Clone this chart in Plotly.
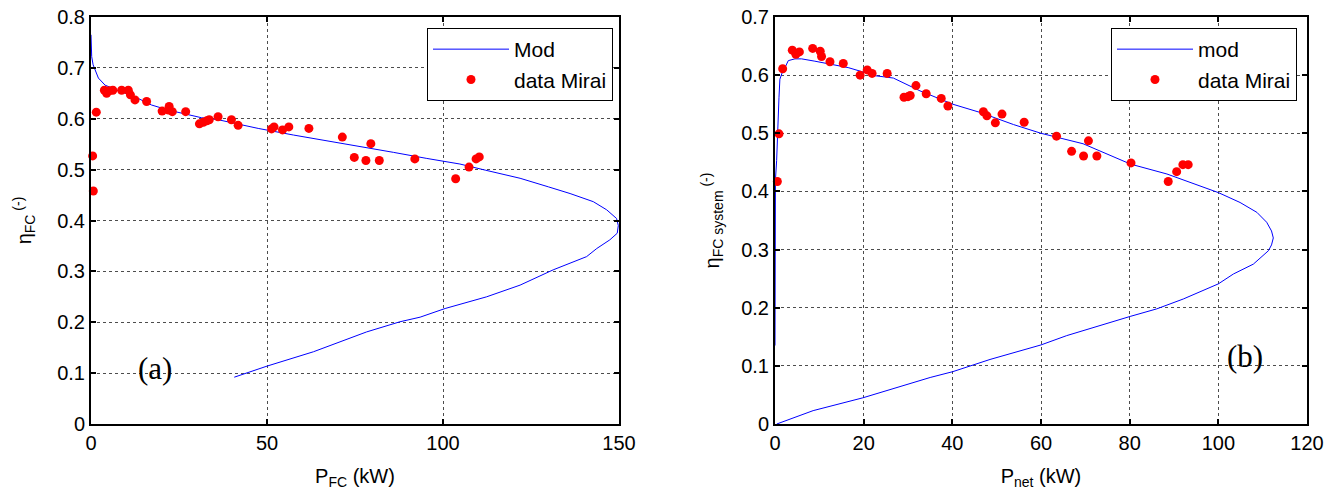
import plotly.graph_objects as go

# ---- Panel (a): stack efficiency vs stack power ----
mod_a_p = [0, 0.2, 0.6, 2.1, 4.0, 7.8, 12.5, 17.2, 22.0, 26.7, 31.4, 36.2, 40.9, 47.5,
           57.5, 67.0, 76.4, 85.9, 95.4, 104.8, 112.0, 121.9, 130.0, 136.1, 142.7, 146.5,
           149.3, 149.8, 149.5, 147.4, 143.7, 140.8, 131.3, 121.9, 112.4, 100.6, 93.5,
           87.8, 78.3, 63.2, 50.1, 40.7]
mod_a_eta = [0.765, 0.722, 0.706, 0.680, 0.666, 0.655, 0.643, 0.627, 0.617, 0.609, 0.602,
             0.598, 0.591, 0.581, 0.568, 0.557, 0.545, 0.534, 0.522, 0.511, 0.499, 0.483,
             0.466, 0.453, 0.437, 0.421, 0.404, 0.390, 0.375, 0.362, 0.345, 0.329, 0.303,
             0.273, 0.250, 0.227, 0.210, 0.201, 0.181, 0.142, 0.114, 0.092]

mirai_a_p = [0.47, 0.66, 1.5, 3.8, 4.45, 5.2, 6.2, 8.7, 10.6, 11.2, 12.5, 15.8, 20.2, 22.2,
             22.0, 23.1, 26.9, 30.8, 31.9, 32.9, 33.6, 36.1, 39.9, 41.8, 51.3, 52.0, 54.4,
             56.2, 61.9, 71.4, 74.8, 79.5, 78.1, 81.9, 92.0, 103.6, 107.4, 109.4, 110.3]
mirai_a_eta = [0.527, 0.458, 0.613, 0.656, 0.650, 0.655, 0.656, 0.656, 0.656, 0.647, 0.637,
               0.634, 0.615, 0.624, 0.617, 0.614, 0.614, 0.590, 0.593, 0.596, 0.598, 0.604,
               0.598, 0.587, 0.580, 0.584, 0.578, 0.584, 0.581, 0.564, 0.524, 0.551, 0.518,
               0.518, 0.521, 0.482, 0.505, 0.521, 0.525]

# ---- Panel (b): system efficiency vs net power ----
mod_b_p = [0.0, 0.05, 0.1, 0.37, 0.6, 0.9, 1.1, 1.65, 2.25, 3.0, 4.5, 6.0, 9.0, 12.8, 16.5,
           19.6, 22.6, 26.7, 32.7, 40.1, 46.2, 53.8, 60.0, 69.5, 80.2, 88.4, 100.0, 104.9,
           108.7, 110.9, 112.0, 112.4, 112.0, 111.3, 107.9, 103.4, 100.0, 92.1, 86.1, 80.1,
           73.3, 65.8, 60.0, 53.8, 48.5, 40.1, 35.0, 19.8, 8.6, 0.4]
mod_b_eta = [0.135, 0.300, 0.420, 0.453, 0.522, 0.562, 0.593, 0.605, 0.613, 0.625, 0.628,
             0.628, 0.624, 0.619, 0.613, 0.606, 0.599, 0.595, 0.573, 0.550, 0.536, 0.515,
             0.500, 0.482, 0.447, 0.430, 0.398, 0.381, 0.364, 0.347, 0.332, 0.320, 0.308,
             0.298, 0.275, 0.258, 0.241, 0.215, 0.198, 0.185, 0.169, 0.152, 0.136, 0.123,
             0.111, 0.090, 0.080, 0.045, 0.023, 0.000]

mirai_b_p = [0.53, 0.90, 1.73, 3.9, 4.7, 5.5, 8.5, 10.2, 10.5, 12.4, 15.4, 19.2, 20.8, 21.9,
             25.3, 29.1, 30.0, 30.5, 31.8, 34.1, 37.5, 39.0, 47.0, 47.8, 49.7, 51.2, 56.2,
             63.5, 66.9, 70.7, 69.6, 72.6, 80.3, 88.7, 90.6, 92.0, 93.2]
mirai_b_eta = [0.417, 0.499, 0.611, 0.643, 0.636, 0.640, 0.646, 0.641, 0.632, 0.623, 0.620,
               0.600, 0.609, 0.603, 0.603, 0.562, 0.563, 0.565, 0.582, 0.568, 0.560, 0.547,
               0.537, 0.530, 0.518, 0.533, 0.519, 0.495, 0.469, 0.487, 0.461, 0.461, 0.449,
               0.417, 0.434, 0.446, 0.446]

x_ticks_a = [0, 50, 100, 150]
y_ticks_a = [0, 0.1, 0.2, 0.3, 0.4, 0.5, 0.6, 0.7, 0.8]
x_ticks_b = [0, 20, 40, 60, 80, 100, 120]
y_ticks_b = [0, 0.1, 0.2, 0.3, 0.4, 0.5, 0.6, 0.7]

FONT = "Liberation Sans, Arial, sans-serif"
SERIF = "Liberation Serif, Times New Roman, serif"
BLUE = "#0000FF"
RED = "#FF0000"

fig = go.Figure()

fig.add_trace(go.Scatter(x=mod_a_p, y=mod_a_eta, mode="lines", name="Mod",
                         line=dict(color=BLUE, width=1), xaxis="x", yaxis="y",
                         legend="legend"))
fig.add_trace(go.Scatter(x=mirai_a_p, y=mirai_a_eta, mode="markers", name="data Mirai",
                         marker=dict(color=RED, size=9), xaxis="x", yaxis="y",
                         legend="legend", cliponaxis=False))
fig.add_trace(go.Scatter(x=mod_b_p, y=mod_b_eta, mode="lines", name="mod",
                         line=dict(color=BLUE, width=1), xaxis="x2", yaxis="y2",
                         legend="legend2", cliponaxis=False))
fig.add_trace(go.Scatter(x=mirai_b_p, y=mirai_b_eta, mode="markers", name="data Mirai",
                         marker=dict(color=RED, size=9), xaxis="x2", yaxis="y2",
                         legend="legend2", cliponaxis=False))

W, H = 1336, 492
y_dom = [68 / H, 475 / H]

axis_common = dict(
    showline=True, linecolor="black", linewidth=2, mirror="ticks",
    ticks="inside", ticklen=5, tickcolor="black", tickwidth=1.5,
    showgrid=True, gridcolor="#4d4d4d", griddash="dot", gridwidth=1,
    zeroline=False, automargin=False,
    tickfont=dict(family=FONT, size=20, color="black"),
)
title_font = dict(family=FONT, size=20, color="black")
legend_style = dict(xanchor="right", yanchor="top", bgcolor="white",
                    bordercolor="black", borderwidth=1,
                    font=dict(family=FONT, size=21), itemwidth=76)

fig.update_layout(
    width=W, height=H,
    margin=dict(l=0, r=0, t=0, b=0),
    paper_bgcolor="white", plot_bgcolor="white",
    font=dict(family=FONT, size=20, color="black"),
    xaxis=dict(axis_common, domain=[91 / W, 619 / W], range=[0, 150],
               tickvals=x_ticks_a, anchor="y",
               title=dict(text="P<sub>FC</sub> (kW)", font=title_font, standoff=16)),
    yaxis=dict(axis_common, domain=y_dom, range=[0, 0.8], tickvals=y_ticks_a,
               anchor="x",
               title=dict(text="η<sub>FC</sub><sup> (-)</sup>", font=title_font, standoff=20)),
    xaxis2=dict(axis_common, domain=[775 / W, 1307 / W], range=[0, 120],
                tickvals=x_ticks_b, anchor="y2",
                title=dict(text="P<sub>net</sub> (kW)", font=title_font, standoff=16)),
    yaxis2=dict(axis_common, domain=y_dom, range=[0, 0.7], tickvals=y_ticks_b,
                anchor="x2",
                title=dict(text="η<sub>FC system</sub><sup> (-)</sup>", font=title_font, standoff=16)),
    legend=dict(legend_style, x=613 / W, y=1 - 28 / H),
    legend2=dict(legend_style, x=1297 / W, y=1 - 28 / H),
    showlegend=True,
)

fig.add_annotation(text="(a)", xref="x", yref="y", x=18.2, y=0.11, showarrow=False,
                   font=dict(family=SERIF, size=31, color="black"))
fig.add_annotation(text="(b)", xref="x2", yref="y2", x=106, y=0.116, showarrow=False,
                   font=dict(family=SERIF, size=31, color="black"))

fig.write_html("out.html")
